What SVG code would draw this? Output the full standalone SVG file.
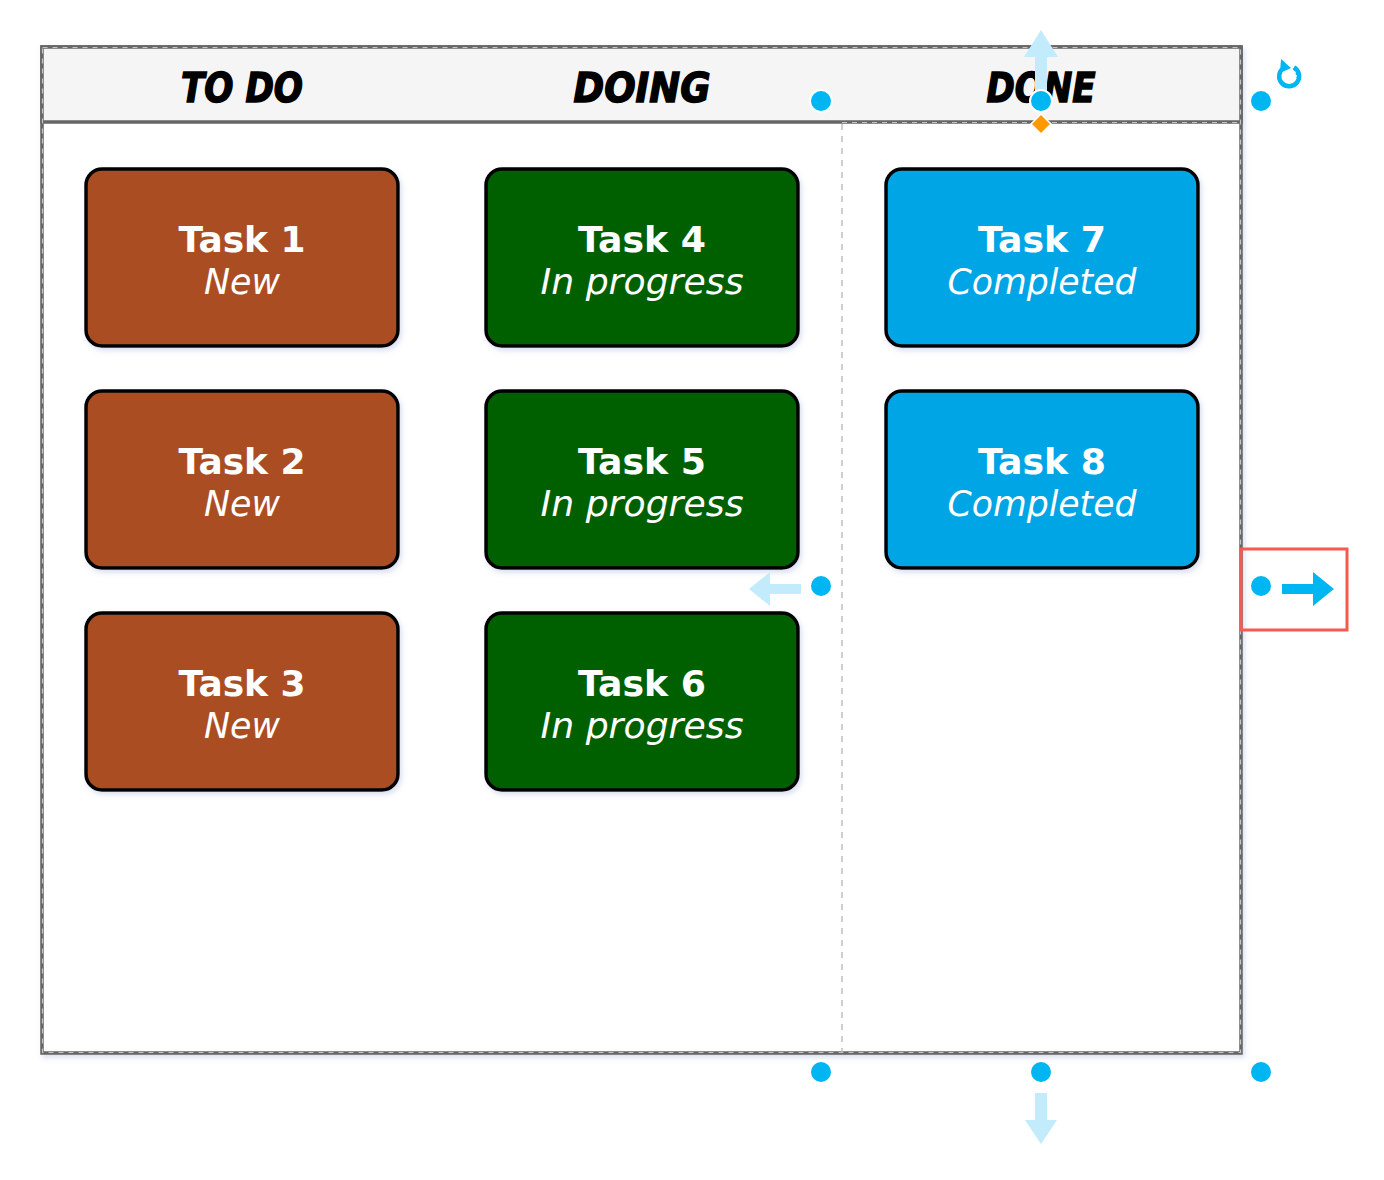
<svg xmlns="http://www.w3.org/2000/svg" width="1384" height="1180" viewBox="0 0 1384 1180">
<defs>
<filter id="sh" x="-10%" y="-10%" width="130%" height="130%">
<feDropShadow dx="2" dy="3" stdDeviation="2.5" flood-color="#7080c0" flood-opacity="0.25"/>
</filter>
<style>
.card{stroke:#000;stroke-width:3.5;filter:url(#sh)}
.todo{fill:#AB4D22}
.doing{fill:#006000}
.done{fill:#00A5E6}
.t{font-family:"DejaVu Sans","Liberation Sans",sans-serif;font-weight:bold;font-size:36px;fill:#fff;text-anchor:middle}
.s{font-family:"DejaVu Sans","Liberation Sans",sans-serif;font-style:italic;font-size:35px;fill:#fff;text-anchor:middle}
.h{font-family:"DejaVu Sans","Liberation Sans",sans-serif;font-weight:bold;font-style:italic;font-size:40px;fill:#000;text-anchor:middle;stroke:#000;stroke-width:1.5}
.hd{fill:#00B6F2;stroke:#fff;stroke-width:2}
.la{fill:#C2ECFC}
.da{fill:#00B6F2}
</style>
</defs>

<g id="board">
<rect x="42" y="47" width="1199" height="1006" fill="#fff" stroke="#666" stroke-width="3.5" filter="url(#sh)"/>
<rect x="42" y="47" width="1199" height="75" fill="#f5f5f5" stroke="#666" stroke-width="3.5"/>
<rect x="42.5" y="47.5" width="1198" height="1005" fill="none" stroke="#c4c4c4" stroke-width="1.2" stroke-dasharray="5 5"/>
<line x1="842" y1="124" x2="842" y2="1052" stroke="#c0c0c0" stroke-width="1.5" stroke-dasharray="6 6"/>
<line x1="842" y1="122.5" x2="1241" y2="122.5" stroke="#c4c4c4" stroke-width="1.2" stroke-dasharray="5 5"/>
</g>

<g id="header-todo"><text class="h" x="242" y="102" textLength="122" lengthAdjust="spacingAndGlyphs">TO DO</text></g>
<g id="header-doing"><text class="h" x="642" y="102" textLength="137" lengthAdjust="spacingAndGlyphs">DOING</text></g>
<g id="header-done"><text class="h" x="1041" y="102" textLength="109" lengthAdjust="spacingAndGlyphs">DONE</text></g>

<g id="task1"><rect class="card todo" x="86" y="169" width="312" height="177" rx="16"/>
<text class="t" x="242" y="252" textLength="127" lengthAdjust="spacingAndGlyphs">Task 1</text>
<text class="s" x="242" y="294" textLength="76" lengthAdjust="spacingAndGlyphs">New</text></g>
<g id="task2"><rect class="card todo" x="86" y="391" width="312" height="177" rx="16"/>
<text class="t" x="242" y="474" textLength="127" lengthAdjust="spacingAndGlyphs">Task 2</text>
<text class="s" x="242" y="516" textLength="76" lengthAdjust="spacingAndGlyphs">New</text></g>
<g id="task3"><rect class="card todo" x="86" y="613" width="312" height="177" rx="16"/>
<text class="t" x="242" y="696" textLength="127" lengthAdjust="spacingAndGlyphs">Task 3</text>
<text class="s" x="242" y="738" textLength="76" lengthAdjust="spacingAndGlyphs">New</text></g>

<g id="task4"><rect class="card doing" x="486" y="169" width="312" height="177" rx="16"/>
<text class="t" x="642" y="252" textLength="128" lengthAdjust="spacingAndGlyphs">Task 4</text>
<text class="s" x="642" y="294" textLength="203" lengthAdjust="spacingAndGlyphs">In progress</text></g>
<g id="task5"><rect class="card doing" x="486" y="391" width="312" height="177" rx="16"/>
<text class="t" x="642" y="474" textLength="128" lengthAdjust="spacingAndGlyphs">Task 5</text>
<text class="s" x="642" y="516" textLength="203" lengthAdjust="spacingAndGlyphs">In progress</text></g>
<g id="task6"><rect class="card doing" x="486" y="613" width="312" height="177" rx="16"/>
<text class="t" x="642" y="696" textLength="128" lengthAdjust="spacingAndGlyphs">Task 6</text>
<text class="s" x="642" y="738" textLength="203" lengthAdjust="spacingAndGlyphs">In progress</text></g>

<g id="task7"><rect class="card done" x="886" y="169" width="312" height="177" rx="16"/>
<text class="t" x="1042" y="252" textLength="128" lengthAdjust="spacingAndGlyphs">Task 7</text>
<text class="s" x="1042" y="294" textLength="189" lengthAdjust="spacingAndGlyphs">Completed</text></g>
<g id="task8"><rect class="card done" x="886" y="391" width="312" height="177" rx="16"/>
<text class="t" x="1042" y="474" textLength="128" lengthAdjust="spacingAndGlyphs">Task 8</text>
<text class="s" x="1042" y="516" textLength="189" lengthAdjust="spacingAndGlyphs">Completed</text></g>

<g id="selection">
<polygon class="la" points="1041,30 1058,57 1047,57 1047,92 1035,92 1035,57 1024,57"/>
<polygon class="la" points="749,589 770,572 770,584 801,584 801,594 770,594 770,606"/>
<polygon class="la" points="1041,1144 1025,1120 1035,1120 1035,1093 1047,1093 1047,1120 1057,1120"/>
<circle class="hd" cx="821" cy="101" r="11"/>
<circle class="hd" cx="1041" cy="101" r="11"/>
<circle class="hd" cx="1261" cy="101" r="11"/>
<circle class="hd" cx="821" cy="586" r="11"/>
<circle class="hd" cx="1261" cy="586" r="11"/>
<circle class="hd" cx="821" cy="1072" r="11"/>
<circle class="hd" cx="1041" cy="1072" r="11"/>
<circle class="hd" cx="1261" cy="1072" r="11"/>
<polygon points="1041,114 1051,124 1041,134 1031,124" fill="#FF9900" stroke="#fff" stroke-width="1.5"/>
<rect x="1241" y="549" width="106" height="81" fill="none" stroke="#F55A4E" stroke-width="3"/>
<polygon class="da" points="1334,589 1313,572 1313,584 1282,584 1282,594 1313,594 1313,606"/>
<g id="rotate" fill="none" stroke="#00B6F2" stroke-width="4.5">
<path d="M1283.5,68 A10,10 0 1 0 1294,67.5"/>
<path d="M1294,67.5 A10,10 0 0 1 1298,78" stroke-dasharray="3 2.5"/>
</g>
<polygon points="1281,59 1291,68 1280,73" fill="#00B6F2"/>
</g>
</svg>
